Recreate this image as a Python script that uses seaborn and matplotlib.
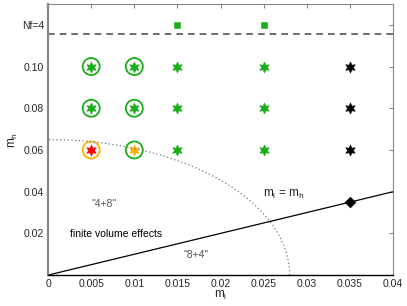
import matplotlib
matplotlib.use("Agg")
import matplotlib.pyplot as plt
import seaborn as sns
import numpy as np
import pandas as pd

sns.set_style("white")
plt.rcParams['font.family'] = ['Liberation Sans', 'DejaVu Sans']

# simulation points (hexagrams)
green_ml = [0.005, 0.01, 0.015, 0.025, 0.005, 0.01, 0.015, 0.025, 0.015, 0.025]
green_mh = [0.10, 0.10, 0.10, 0.10, 0.08, 0.08, 0.08, 0.08, 0.06, 0.06]
black_ml = [0.035, 0.035, 0.035]
black_mh = [0.10, 0.08, 0.06]
red_ml, red_mh = [0.005], [0.06]
orange_ml, orange_mh = [0.01], [0.06]
# circled points
gcirc_ml = [0.005, 0.01, 0.005, 0.01, 0.01]
gcirc_mh = [0.10, 0.10, 0.08, 0.08, 0.06]
ocirc_ml, ocirc_mh = [0.005], [0.06]
# Nf=4 squares and the diamond on the diagonal
sq_ml, sq_mh = [0.015, 0.025], [0.12, 0.12]
dia_ml, dia_mh = [0.035], [0.035]

nf4_line = 0.1155
# dotted boundary: quarter ellipse through these axis intercepts
ell_x0, ell_y0 = 0.028, 0.065

xticks = [0, 0.005, 0.01, 0.015, 0.02, 0.025, 0.03, 0.035, 0.04]
xticklabels = ['0', '0.005', '0.01', '0.015', '0.02', '0.025', '0.03', '0.035', '0.04']
yticks = [0.02, 0.04, 0.06, 0.08, 0.10, 0.12]
yticklabels = ['0.02', '0.04', '0.06', '0.08', '0.10', 'Nf=4']

GREEN = '#1aad1a'
ORANGE = '#ffb000'
HEX = (6, 1, 0)

fig = plt.figure(figsize=(4.07, 3.06), dpi=100)
ax = fig.add_axes([0.118, 0.101, 0.848, 0.886])

# diagonal m_l = m_h
diag = pd.DataFrame({'ml': [0, 0.04], 'mh': [0, 0.04]})
sns.lineplot(data=diag, x='ml', y='mh', color='black', lw=0.9, ax=ax)

t = np.linspace(0, np.pi / 2, 200)
ell = pd.DataFrame({'ml': ell_x0 * np.cos(t), 'mh': ell_y0 * np.sin(t)})
sns.lineplot(data=ell, x='ml', y='mh', sort=False, color='#777777', lw=0.9,
             linestyle=(0, (1, 2)), ax=ax)

ax.axhline(nf4_line, color='#555555', lw=1.2, linestyle=(0, (4, 3)))

def pts(x, y):
    return pd.DataFrame({'ml': x, 'mh': y})

sns.scatterplot(data=pts(gcirc_ml, gcirc_mh), x='ml', y='mh', marker='o', s=150,
                facecolor='none', edgecolor=GREEN, linewidth=1.3, ax=ax)
sns.scatterplot(data=pts(ocirc_ml, ocirc_mh), x='ml', y='mh', marker='o', s=150,
                facecolor='none', edgecolor=ORANGE, linewidth=1.3, ax=ax)
sns.scatterplot(data=pts(green_ml, green_mh), x='ml', y='mh', marker=HEX, s=60,
                color=GREEN, edgecolor=GREEN, linewidth=0.5, ax=ax)
sns.scatterplot(data=pts(black_ml, black_mh), x='ml', y='mh', marker=HEX, s=60,
                color='black', edgecolor='black', linewidth=0.5, ax=ax)
sns.scatterplot(data=pts(red_ml, red_mh), x='ml', y='mh', marker=HEX, s=60,
                color='red', edgecolor='red', linewidth=0.5, ax=ax)
sns.scatterplot(data=pts(orange_ml, orange_mh), x='ml', y='mh', marker=HEX, s=60,
                color=ORANGE, edgecolor=ORANGE, linewidth=0.5, ax=ax)
sns.scatterplot(data=pts(sq_ml, sq_mh), x='ml', y='mh', marker='s', s=25,
                color=GREEN, edgecolor=GREEN, ax=ax)
sns.scatterplot(data=pts(dia_ml, dia_mh), x='ml', y='mh', marker='D', s=30,
                color='black', edgecolor='black', ax=ax)

ax.text(0.0249, 0.0375, r'm$_\mathregular{l}$ = m$_\mathregular{h}$', fontsize=8.5, color='#222222')
ax.text(0.0065, 0.034, '"4+8"', fontsize=7.5, color='#555555', ha='center', va='center')
ax.text(0.0025, 0.0198, 'finite volume effects', fontsize=7.5, color='black', va='center')
ax.text(0.0172, 0.0095, '"8+4"', fontsize=7.5, color='#555555', ha='center', va='center')

ax.set_xlim(0, 0.04)
ax.set_ylim(0, 0.13)
ax.set_xticks(xticks)
ax.set_xticklabels(xticklabels, fontsize=7.5)
ax.set_yticks(yticks)
ax.set_yticklabels(yticklabels, fontsize=7.5)
ax.tick_params(direction='in', length=3, top=True, right=True, color='#888888', pad=3)
ax.set_xlabel(r'm$_\mathregular{l}$', fontsize=8.5, labelpad=0)
ax.set_ylabel(r'm$_\mathregular{h}$', fontsize=8.5, labelpad=1)

for side in ['left', 'top', 'right']:
    ax.spines[side].set_color('#888888')
ax.spines['left'].set_linewidth(1.6)
ax.spines['bottom'].set_color('black')
ax.spines['bottom'].set_linewidth(1.0)

plt.savefig('out.png', dpi=100)
plt.close()
